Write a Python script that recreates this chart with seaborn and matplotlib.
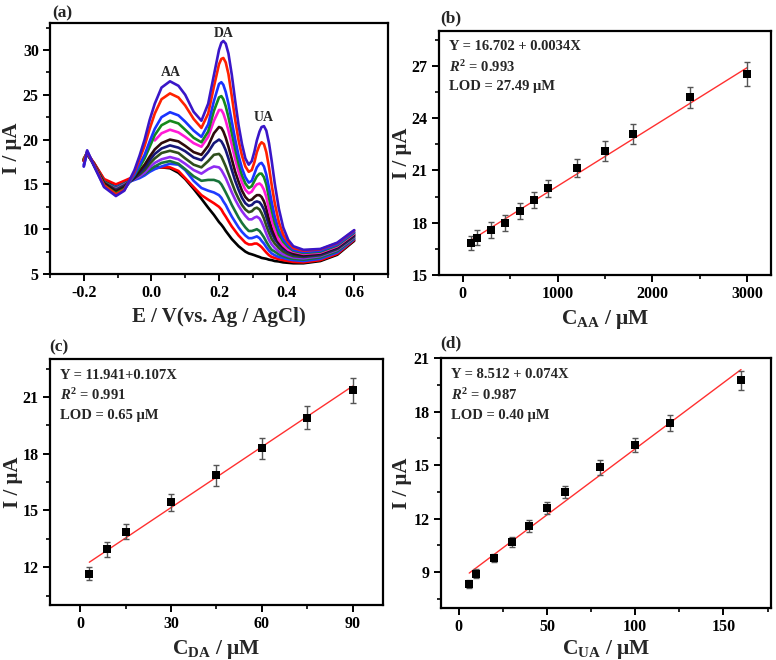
import numpy as np
import pandas as pd
import matplotlib
matplotlib.use("Agg")
import matplotlib.pyplot as plt
from matplotlib.ticker import MultipleLocator
import seaborn as sns

# ---- panel (a): DPV curves, potential grid (V) and currents (uA), bottom curve first
potential = [-0.2, -0.19, -0.17, -0.14, -0.105, -0.08, -0.05, -0.035, -0.02, -0.005, 0.01, 0.03,
             0.055, 0.08, 0.1, 0.125, 0.148, 0.168, 0.185, 0.2, 0.207, 0.213, 0.22, 0.228,
             0.238, 0.248, 0.258, 0.268, 0.278, 0.288, 0.297, 0.305, 0.312, 0.32, 0.326, 0.333,
             0.34, 0.348, 0.356, 0.365, 0.377, 0.39, 0.405, 0.42, 0.45, 0.5, 0.55, 0.6]
nan = np.nan
curves = [
    # black
    [17.8, 18.3, 17.4, 15.5, 14.8, 15.3, 15.8, 16.1, 16.4, 16.7, 16.9, 16.9, 16.8, 16.3, 15.6, 14.5,
     13.4, 12.4, 11.6, 10.8, 10.5, 10.2, 9.8, 9.4, 8.9, 8.5, 8.1, 7.8, 7.5, 7.3, 7.2, 7.1, 7.0, 6.9,
     6.8, 6.75, 6.7, 6.6, 6.55, 6.45, 6.4, 6.3, 6.25, 6.2, 6.2, 6.45, 7.15, 8.7],
    # red
    [17.9, 18.5, 17.4, 15.6, 15.0, 15.4, 15.9, 16.1, 16.4, 16.6, 16.8, 16.9, 16.9, 16.5, 15.7, 14.7,
     13.8, 13.3, 12.9, 12.5, 12.2, 11.8, 11.4, 10.9, 10.3, 9.8, 9.3, 8.9, 8.5, 8.3, 8.3, 8.4, 8.4, 8.2,
     8.0, 7.7, 7.4, 7.1, 6.9, 6.8, 6.65, 6.55, 6.45, 6.35, 6.3, 6.55, 7.25, 8.8],
    # blue
    [17.0, 18.6, 17.2, 15.2, 14.7, 15.1, 15.5, 15.7, 16.0, 16.4, 16.7, 17.0, 17.3, 17.2, 16.6, 15.4,
     14.6, 14.3, 14.1, 13.8, 13.5, 13.1, 12.7, 12.1, 11.4, 10.8, 10.2, 9.7, 9.3, 9.0, 9.0, 9.1, 9.2, 9.0,
     8.7, 8.4, 8.0, 7.6, 7.3, 7.1, 6.9, 6.8, 6.65, 6.55, 6.45, 6.7, 7.4, 8.9],
    # dark green
    [17.7, 18.4, 17.3, 15.3, 14.6, 15.1, 15.6, 15.9, 16.2, 16.6, 17.0, 17.4, 17.6, 17.3, 16.7, 15.9,
     15.4, 15.5, 15.5, 15.3, 15.0, 14.6, 14.1, 13.5, 12.7, 12.0, 11.3, 10.7, 10.2, 9.8, 9.8, 9.9, 10.0,
     9.8, 9.5, 9.1, 8.6, 8.1, 7.7, 7.5, 7.2, 7.0, 6.8, 6.7, 6.6, 6.85, 7.55, 9.0],
    # violet
    [17.6, 18.4, 17.2, 15.2, 14.5, 15.0, 15.6, 15.9, 16.3, 16.9, 17.4, 17.8, 18.05, 17.8, 17.3, 16.6,
     16.2, 16.7, 17.0, 16.9, 16.6, 16.2, 15.7, 15.0, 14.1, 13.3, 12.6, 12.0, 11.5, 11.1, 11.1, 11.3,
     11.4, 11.2, 10.8, 10.2, 9.5, 8.8, 8.3, 7.9, 7.5, 7.2, 7.0, 6.85, 6.75, 7.0, 7.7, 9.1],
    # dark olive
    [17.7, 18.5, 17.2, 15.2, 14.4, 14.9, 15.7, 16.1, 16.6, 17.3, 17.9, 18.5, 18.75, 18.5, 17.9, 17.2,
     16.9, 17.6, 18.3, 18.4, 18.1, 17.6, 17.0, 16.2, 15.2, 14.2, 13.4, 12.7, 12.2, 11.9, 12.0, 12.3,
     12.4, 12.2, 11.8, 11.2, 10.4, 9.6, 8.9, 8.4, 7.9, 7.5, 7.2, 7.0, 6.9, 7.1, 7.8, 9.2],
    # navy
    [17.6, 18.5, 17.2, 15.1, 14.3, 14.8, 15.7, 16.3, 16.9, 17.7, 18.4, 19.0, 19.35, 19.1, 18.7, 18.0,
     17.7, 18.6, 19.6, 20.0, 19.8, 19.4, 18.8, 17.9, 16.6, 15.4, 14.4, 13.5, 12.9, 12.6, 12.7, 13.0,
     13.1, 13.0, 12.7, 12.2, 11.4, 10.4, 9.6, 8.9, 8.3, 7.8, 7.45, 7.2, 7.0, 7.2, 7.9, 9.3],
    # dark brown
    [17.7, 18.5, 17.2, 15.1, 14.2, 14.7, 15.8, 16.5, 17.2, 18.1, 18.9, 19.6, 20.0, 19.8, 19.3, 18.6,
     18.3, 19.3, 20.7, 21.4, 21.3, 20.9, 20.2, 19.2, 17.8, 16.4, 15.3, 14.3, 13.6, 13.2, 13.3, 13.6,
     13.8, 13.8, 13.6, 13.1, 12.3, 11.1, 10.1, 9.3, 8.5, 8.0, 7.6, 7.3, 7.1, 7.3, 8.0, 9.4],
    # magenta (trace starts near 0 V)
    [nan, nan, nan, nan, nan, nan, nan, nan, nan, nan, 19.9, 20.7, 21.1, 20.8, 20.3, 19.6,
     19.2, 20.3, 22.1, 23.3, 23.3, 22.9, 22.1, 21.0, 19.4, 17.8, 16.4, 15.2, 14.4, 14.0, 14.2, 14.7,
     15.0, 15.1, 14.9, 14.4, 13.6, 12.2, 11.0, 9.9, 8.8, 8.2, 7.7, 7.5, 7.25, 7.4, 8.1, 9.5],
    # green
    [17.8, 18.6, 17.1, 14.9, 14.0, 14.5, 16.0, 16.9, 17.9, 19.2, 20.5, 21.6, 22.1, 21.8, 21.1, 20.2,
     19.7, 20.9, 23.2, 24.7, 24.85, 24.5, 23.7, 22.5, 20.7, 18.9, 17.3, 16.0, 15.1, 14.6, 14.8, 15.4,
     15.9, 16.2, 16.2, 15.8, 15.0, 13.5, 12.1, 10.7, 9.4, 8.6, 8.0, 7.6, 7.35, 7.5, 8.2, 9.6],
    # blue
    [17.2, 18.7, 17.1, 14.8, 13.8, 14.4, 16.1, 17.2, 18.3, 19.8, 21.2, 22.5, 23.05, 22.7, 22.0, 21.0,
     20.3, 21.7, 24.3, 26.2, 26.4, 26.1, 25.3, 24.0, 22.0, 20.0, 18.2, 16.8, 15.8, 15.2, 15.4, 16.2,
     16.9, 17.3, 17.4, 17.0, 16.1, 14.6, 13.0, 11.4, 9.9, 8.9, 8.2, 7.7, 7.45, 7.6, 8.3, 9.7],
    # red
    [17.6, 18.6, 17.2, 14.9, 13.9, 14.4, 16.4, 17.8, 19.3, 21.2, 22.9, 24.5, 25.15, 24.7, 23.8, 22.3,
     21.3, 22.9, 25.9, 28.4, 29.0, 29.1, 28.6, 27.3, 24.8, 22.2, 19.9, 18.2, 17.0, 16.4, 16.6, 17.5,
     18.6, 19.4, 19.7, 19.5, 18.6, 16.9, 14.9, 12.9, 10.8, 9.4, 8.5, 7.9, 7.6, 7.75, 8.45, 9.85],
    # navy-violet (top)
    [17.0, 18.8, 17.1, 14.7, 13.7, 14.3, 16.6, 18.2, 20.0, 22.2, 24.0, 25.8, 26.5, 26.0, 25.0, 23.1,
     22.1, 24.0, 27.2, 30.0, 30.8, 31.0, 30.7, 29.6, 27.2, 24.3, 21.6, 19.5, 17.9, 17.2, 17.6, 18.7,
     19.9, 20.9, 21.4, 21.5, 21.0, 19.6, 17.6, 15.1, 12.3, 10.2, 8.8, 8.1, 7.7, 7.8, 8.5, 9.9],
]
curve_colors = ["#000000", "#ff0000", "#1f3cff", "#17733a", "#8f2cf2", "#2f4f1c", "#16167a",
                "#2e0b0b", "#ff1ad6", "#14891c", "#1a33ff", "#ff2200", "#3a16c8"]

# ---- panel (b): ascorbic acid
aa_conc = [90, 150, 300, 450, 600, 750, 900, 1200, 1500, 1800, 2400, 3000]
aa_curr = [16.83, 17.14, 17.6, 18.0, 18.68, 19.3, 19.97, 21.13, 22.12, 23.09, 25.19, 26.53]
aa_err = [0.4, 0.42, 0.45, 0.47, 0.47, 0.48, 0.5, 0.52, 0.55, 0.58, 0.62, 0.67]
aa_fit = (16.702, 0.0034)

# ---- panel (c): dopamine
da_conc = [3, 9, 15, 30, 45, 60, 75, 90]
da_curr = [11.65, 12.94, 13.88, 15.42, 16.85, 18.28, 19.9, 21.35]
da_err = [0.34, 0.41, 0.41, 0.46, 0.54, 0.56, 0.62, 0.66]
da_fit = (11.941, 0.107)

# ---- panel (d): uric acid
ua_conc = [6, 10, 20, 30, 40, 50, 60, 80, 100, 120, 160]
ua_curr = [8.34, 8.93, 9.8, 10.7, 11.59, 12.62, 13.5, 14.87, 16.13, 17.34, 19.74]
ua_err = [0.23, 0.27, 0.23, 0.28, 0.34, 0.34, 0.35, 0.41, 0.41, 0.44, 0.52]
ua_fit = (8.512, 0.074)

sns.set_theme(style="ticks")
plt.rcParams["font.family"] = ["Liberation Serif", "DejaVu Serif"]
plt.rcParams["font.weight"] = "bold"
plt.rcParams["mathtext.fontset"] = "custom"
plt.rcParams["mathtext.rm"] = "Liberation Serif:bold"
plt.rcParams["mathtext.bf"] = "Liberation Serif:bold"
plt.rcParams["mathtext.it"] = "Liberation Serif:italic:bold"
plt.rcParams["axes.linewidth"] = 1.6
plt.rcParams["xtick.major.width"] = 1.4
plt.rcParams["ytick.major.width"] = 1.4
plt.rcParams["xtick.minor.width"] = 1.2
plt.rcParams["ytick.minor.width"] = 1.2
plt.rcParams["xtick.major.size"] = 5
plt.rcParams["ytick.major.size"] = 5
plt.rcParams["xtick.minor.size"] = 3
plt.rcParams["ytick.minor.size"] = 3
plt.rcParams["xtick.color"] = "black"
plt.rcParams["ytick.color"] = "black"
plt.rcParams["axes.edgecolor"] = "black"

fig = plt.figure(figsize=(7.76, 6.6), dpi=100)
ax_a = fig.add_axes([0.0644, 0.5848, 0.4356, 0.3803])
ax_b = fig.add_axes([0.5657, 0.5833, 0.4278, 0.3697])
ax_c = fig.add_axes([0.0644, 0.0833, 0.4291, 0.3727])
ax_d = fig.add_axes([0.5683, 0.0788, 0.4253, 0.3788])


def style_axes(ax, xlim, ylim, xmaj, xmin, ymaj, ymin):
    ax.set_xlim(*xlim)
    ax.set_ylim(*ylim)
    ax.xaxis.set_major_locator(MultipleLocator(xmaj))
    ax.xaxis.set_minor_locator(MultipleLocator(xmin))
    ax.yaxis.set_major_locator(MultipleLocator(ymaj))
    ax.yaxis.set_minor_locator(MultipleLocator(ymin))
    ax.tick_params(which="both", direction="out", top=False, right=False, labelsize=11.5, pad=3)
    for lab in ax.get_xticklabels() + ax.get_yticklabels():
        lab.set_fontweight("bold")
    for s in ax.spines.values():
        s.set_visible(True)
        s.set_color("black")


def set_ylab(ax, xpix, left_pix, width_pix):
    # xpix: centre of the rotated label, in figure pixels
    ax.set_ylabel("I / μA", fontsize=15, fontweight="bold", va="center")
    ax.yaxis.set_label_coords((xpix - left_pix) / width_pix, 0.5)


# (a)
rows = []
for i, c in enumerate(curves):
    for v, y in zip(potential, c):
        if not np.isnan(y):
            rows.append({"E": v, "I": y, "curve": i})
dpv = pd.DataFrame(rows)
sns.lineplot(data=dpv, x="E", y="I", hue="curve", palette=curve_colors, estimator=None,
             sort=False, linewidth=1.9, legend=False, ax=ax_a)
style_axes(ax_a, (-0.3, 0.7), (5, 33), 0.2, 0.1, 5, 2.5)
ax_a.set_xticks([-0.2, 0.0, 0.2, 0.4, 0.6])
ax_a.set_xticklabels(["-0.2", "0.0", "0.2", "0.4", "0.6"], fontweight="bold")
ax_a.set_xlabel("E / V(vs. Ag / AgCl)", fontsize=15, fontweight="bold", labelpad=4)
set_ylab(ax_a, 12, 50, 338)
ax_a.text(0.058, 27.5, "AA", ha="center", va="center", fontsize=10, fontweight="bold")
ax_a.text(0.215, 31.85, "DA", ha="center", va="center", fontsize=10, fontweight="bold")
ax_a.text(0.333, 22.5, "UA", ha="center", va="center", fontsize=10, fontweight="bold")


def calib(ax, conc, curr, err, fit, texts):
    ax.errorbar(conc, curr, yerr=err, fmt="none", ecolor="#555555", elinewidth=1.0,
                capsize=2.5, capthick=1.0, zorder=2)
    sns.scatterplot(x=conc, y=curr, marker="s", s=40, color="black", edgecolor="black",
                    linewidth=0, zorder=3, ax=ax)
    xs = np.array([conc[0], conc[-1]], dtype=float)
    sns.lineplot(x=xs, y=fit[0] + fit[1] * xs, color="#ff3030", linewidth=1.0, zorder=1, ax=ax)
    for k, t in enumerate(texts):
        ax.text(0.03, 0.935 - k * 0.082, t, transform=ax.transAxes, ha="left", va="center",
                fontsize=10.5, fontweight="bold")


# (b)
calib(ax_b, aa_conc, aa_curr, aa_err, aa_fit,
      ["Y = 16.702 + 0.0034X", "$R^2$ = 0.993", "LOD = 27.49 μM"])
style_axes(ax_b, (-250, 3250), (15, 29), 1000, 500, 3, 1.5)
ax_b.set_xlabel(r"C$_{\mathrm{AA}}$ / μM", fontsize=15.5, fontweight="bold", labelpad=4)
set_ylab(ax_b, 402, 439, 332)

# (c)
calib(ax_c, da_conc, da_curr, da_err, da_fit,
      ["Y = 11.941+0.107X", "$R^2$ = 0.991", "LOD = 0.65 μM"])
style_axes(ax_c, (-10, 100), (10, 23), 30, 15, 3, 1.5)
ax_c.set_xlabel(r"C$_{\mathrm{DA}}$ / μM", fontsize=15.5, fontweight="bold", labelpad=4)
set_ylab(ax_c, 13, 50, 333)

# (d)
calib(ax_d, ua_conc, ua_curr, ua_err, ua_fit,
      ["Y = 8.512 + 0.074X", "$R^2$ = 0.987", "LOD = 0.40 μM"])
style_axes(ax_d, (-10, 177), (7, 21), 50, 25, 3, 1.5)
ax_d.set_xlabel(r"C$_{\mathrm{UA}}$ / μM", fontsize=15.5, fontweight="bold", labelpad=2)
set_ylab(ax_d, 402, 441, 330)

for lab, x, y in [("(a)", 52, 13), ("(b)", 440, 18), ("(c)", 49, 347), ("(d)", 440, 343)]:
    fig.text(x / 776, 1 - y / 660, lab, ha="left", va="center", fontsize=12.5, fontweight="bold")

fig.savefig("out.png", dpi=100)
plt.close(fig)
